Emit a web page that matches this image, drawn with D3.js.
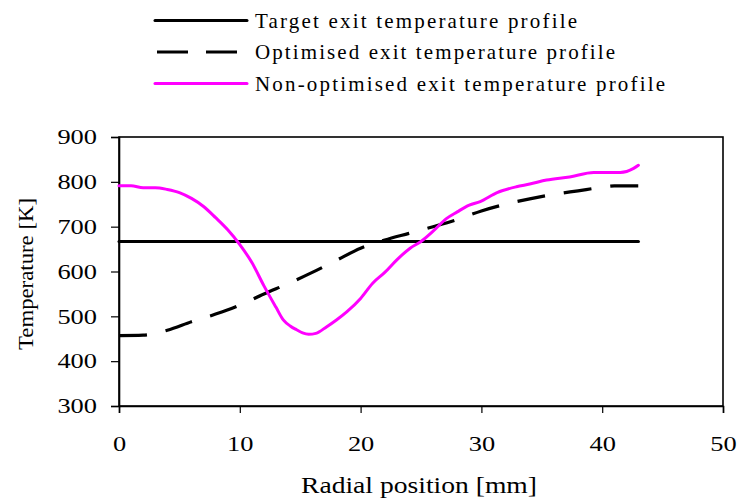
<!DOCTYPE html>
<html><head><meta charset="utf-8">
<script src="https://cdn.jsdelivr.net/npm/d3@7"></script>
<style>
html,body{margin:0;padding:0;background:#fff;}
svg text{font-family:"Liberation Serif","DejaVu Serif",serif !important;fill:#000;}
</style></head>
<body><svg id="c" width="738" height="499"></svg>
<script>
const seriesNames = ["Target exit temperature profile","Optimised exit temperature profile","Non-optimised exit temperature profile"];
const xTicks = [0,10,20,30,40,50];
const yTicks = [300,400,500,600,700,800,900];
const targetX = [0,43];
const targetT = [667,667];
const optX = [0,2,4,6,8,10,12,14,16,18,20,22,24,26,28,30,32,34,36,38,40,41,43];
const optT = [457,458,469,488,505,525,550,573,598,625,652,670,685,700,716,735,750,762,772,780,788,791,791];
const nonX = [0,1,2,3,4,5,6,7,8,9,10,11,12,13,13.6,14.2,14.7,15.2,15.7,16.3,17.2,18,18.85,20,21,22,23,24.1,25,26,27.1,28,29,29.9,31.3,32.9,34,35.4,37.3,39.3,41.5,42.6,43];
const nonT = [791,791,787,787,783,776,763,745,720,693,660,620,568,520,492,478,470,463,460,462,477,492,510,540,574,598,626,652,667,690,718,733,748,756,776,789,795,804,811,821,821,830,837];

const svg = d3.select("#c");
const L=119,R=723,T=137,B=406;
const x = d3.scaleLinear().domain([0,50]).range([L,R]);
const y = d3.scaleLinear().domain([300,900]).range([B,T]);

svg.append("rect").attr("x",L).attr("y",T).attr("width",R-L).attr("height",B-T)
  .attr("fill","none").attr("stroke","#000").attr("stroke-width",1.6);

const gx = svg.append("g").attr("transform",`translate(0,${B})`)
  .call(d3.axisBottom(x).tickValues(xTicks).tickSize(7).tickPadding(23).tickFormat(d3.format("d")));
const gy = svg.append("g").attr("transform",`translate(${L},0)`)
  .call(d3.axisLeft(y).tickValues(yTicks).tickSize(8).tickPadding(14).tickFormat(d3.format("d")));
[gx,gy].forEach(g=>{
  g.attr("font-family",null);
  g.select(".domain").attr("stroke","#000").attr("stroke-width",1.6);
  g.selectAll(".tick line").attr("stroke","#000").attr("stroke-width",1.2);
  g.selectAll(".tick text").attr("font-size",21).attr("fill","#000")
    .attr("textLength",d=>String(d).length*13.2).attr("lengthAdjust","spacingAndGlyphs");
});

const zip = (a,b)=>a.map((v,i)=>[v,b[i]]);
const line = d3.line().x(d=>x(d[0])).y(d=>y(d[1]));
const curve = d3.line().x(d=>x(d[0])).y(d=>y(d[1])).curve(d3.curveMonotoneX);

svg.append("path").datum(zip(targetX,targetT)).attr("d",line)
  .attr("fill","none").attr("stroke","#000").attr("stroke-width",3).attr("stroke-linecap","round");
svg.append("path").datum(zip(optX,optT)).attr("d",curve)
  .attr("fill","none").attr("stroke","#000").attr("stroke-width",3.2).attr("stroke-dasharray","28,19");
svg.append("path").datum(zip(nonX,nonT)).attr("d",curve)
  .attr("fill","none").attr("stroke","#ff00ff").attr("stroke-width",3).attr("stroke-linecap","round");

svg.append("text").attr("x",419).attr("y",493).attr("text-anchor","middle")
  .attr("font-size",23).attr("textLength",236).attr("lengthAdjust","spacingAndGlyphs").text("Radial position [mm]");
svg.append("text").attr("transform","translate(33,274) rotate(-90)").attr("text-anchor","middle")
  .attr("font-size",22).attr("textLength",152).attr("lengthAdjust","spacingAndGlyphs").text("Temperature [K]");

const legY=[20.5,52,83.5];
const legW=[322,360,410];
const lg = svg.append("g");
lg.append("line").attr("x1",155).attr("x2",247).attr("y1",legY[0]).attr("y2",legY[0])
  .attr("stroke","#000").attr("stroke-width",3).attr("stroke-linecap","round");
lg.append("line").attr("x1",157).attr("x2",238).attr("y1",legY[1]).attr("y2",legY[1])
  .attr("stroke","#000").attr("stroke-width",3.2).attr("stroke-dasharray","31,18");
lg.append("line").attr("x1",155).attr("x2",247).attr("y1",legY[2]).attr("y2",legY[2])
  .attr("stroke","#ff00ff").attr("stroke-width",3).attr("stroke-linecap","round");
seriesNames.forEach((n,i)=>{
  lg.append("text").attr("x",255).attr("y",legY[i]+7).attr("font-size",21)
    .attr("textLength",legW[i]).attr("lengthAdjust","spacing").text(n);
});
</script></body></html>
